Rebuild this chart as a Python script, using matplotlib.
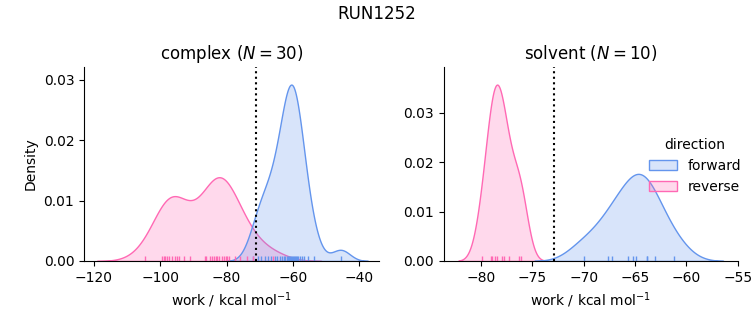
import numpy as np
import pandas as pd
import matplotlib
matplotlib.use("Agg")
import matplotlib.pyplot as plt
from matplotlib.ticker import MultipleLocator
import seaborn as sns

# work values (kcal/mol)
complex_forward = [-72.0, -70.5, -69.5, -68.5, -67.5, -66.5, -65.5, -64.8, -64.0, -63.4,
                   -62.8, -62.3, -61.9, -61.5, -61.2, -60.9, -60.6, -60.3, -60.0, -59.7,
                   -59.4, -59.1, -58.8, -58.4, -58.0, -57.3, -56.8, -55.5, -53.7, -45.6]
complex_reverse = [-104.6, -99.5, -99.0, -98.5, -98.0, -97.3, -96.5, -95.5, -95.0, -94.4,
                   -92.9, -91.0, -86.5, -86.1, -85.0, -84.3, -83.8, -83.3, -82.8, -82.3,
                   -81.3, -80.8, -80.3, -79.8, -79.3, -77.5, -76.0, -74.0, -72.0, -66.0]
solvent_forward = [-70.0, -67.6, -67.2, -65.7, -65.15, -64.85, -63.85, -63.8, -63.0, -61.2]
solvent_reverse = [-79.9, -79.05, -78.95, -78.6, -78.45, -77.9, -77.8, -77.25, -76.3, -76.1]

# free energy estimates (dotted lines)
dg_complex = -71.3
dg_solvent = -72.85

rows = []
for phase, fwd, rev in [("complex", complex_forward, complex_reverse),
                        ("solvent", solvent_forward, solvent_reverse)]:
	for w in fwd:
		rows.append({"phase": phase, "direction": "forward", "work": w})
	for w in rev:
		rows.append({"phase": phase, "direction": "reverse", "work": w})
df = pd.DataFrame(rows)

palette = {"forward": "cornflowerblue", "reverse": "hotpink"}
g = sns.displot(data=df, x="work", hue="direction", col="phase", kind="kde",
                fill=True, rug=True, palette=palette,
                facet_kws=dict(sharex=False, sharey=False))

fig = g.figure
fig.set_size_inches(7.53, 3.25)
ax1, ax2 = g.axes.flat
ax1.set_position([0.1116, 0.197, 0.392, 0.597])
ax2.set_position([0.5896, 0.197, 0.390, 0.597])
ax1.set_xlim(-123, -34)
ax2.set_xlim(-83.6, -55)

for ax, phase, dg in [(ax1, "complex", dg_complex), (ax2, "solvent", dg_solvent)]:
	n = len(df[(df.phase == phase) & (df.direction == "forward")])
	ax.axvline(dg, color="k", ls=":", lw=1.5)
	ax.set_title("%s ($N=%d$)" % (phase, n), fontsize=12)
	ax.set_xlabel("work / kcal mol$^{-1}$")
	ax.yaxis.set_major_locator(MultipleLocator(0.01))
ax1.set_ylabel("Density")
ax2.set_ylabel("")

sns.move_legend(g, "center left", bbox_to_anchor=(0.845, 0.49), frameon=False)
fig.suptitle("RUN1252", fontsize=12, y=0.985)

fig.savefig("out.png", dpi=100)
